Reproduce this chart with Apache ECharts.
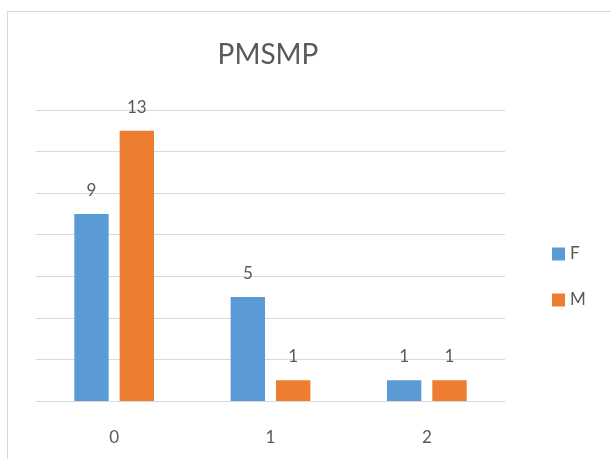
<!DOCTYPE html>
<html>
<head>
<meta charset="utf-8">
<script src="https://cdn.jsdelivr.net/npm/echarts@6/dist/echarts.min.js"></script>
<style>
  html, body { margin: 0; padding: 0; background: #fff; }
  #frame { position: absolute; left: 7px; top: 11px; width: 620px; height: 460px; border: 1px solid #d9d9d9; box-sizing: border-box; }
  #chart { position: absolute; left: 0; top: 0; width: 611px; height: 459px; }
</style>
</head>
<body>
<div id="frame"></div>
<div id="chart"></div>
<script>
// Counts per category, split by sex
const categories = ['0', '1', '2'];
const seriesNames = ['F', 'M'];
const femaleValues = [9, 5, 1];
const maleValues = [13, 1, 1];

const textColor = '#595959';
const fontFamily = 'Lato, "Open Sans", sans-serif';

const chart = echarts.init(document.getElementById('chart'), null, { renderer: 'canvas' });

const labelStyle = {
  show: true,
  position: 'top',
  distance: 15,
  color: textColor,
  fontFamily: fontFamily,
  fontSize: 17
};

chart.setOption({
  backgroundColor: 'transparent',
  animation: false,
  title: {
    text: 'PMSMP',
    left: 263,
    textAlign: 'center',
    top: 36,
    textStyle: { color: textColor, fontFamily: fontFamily, fontSize: 28, fontWeight: 'normal' }
  },
  legend: {
    orient: 'vertical',
    left: 547,
    top: 239,
    itemWidth: 13,
    itemHeight: 13,
    itemGap: 26,
    icon: 'rect',
    data: seriesNames,
    textStyle: { color: textColor, fontFamily: fontFamily, fontSize: 17, lineHeight: 20 }
  },
  grid: { left: 36, right: 106, top: 110, bottom: 58 },
  xAxis: {
    type: 'category',
    data: categories,
    axisLine: { lineStyle: { color: '#d9d9d9', width: 1 } },
    axisTick: { show: false },
    axisLabel: { color: textColor, fontFamily: fontFamily, fontSize: 17, margin: 28 }
  },
  yAxis: {
    type: 'value',
    min: 0,
    max: 14,
    interval: 2,
    axisLine: { show: false },
    axisTick: { show: false },
    axisLabel: { show: false },
    splitLine: { lineStyle: { color: '#d9d9d9', width: 1 } }
  },
  series: [
    {
      name: seriesNames[0],
      type: 'bar',
      data: femaleValues,
      itemStyle: { color: '#5b9bd5' },
      barGap: '32%',
      barCategoryGap: '49%',
      label: labelStyle
    },
    {
      name: seriesNames[1],
      type: 'bar',
      data: maleValues,
      itemStyle: { color: '#ed7d31' },
      barGap: '32%',
      barCategoryGap: '49%',
      label: labelStyle
    }
  ]
});
</script>
</body>
</html>
